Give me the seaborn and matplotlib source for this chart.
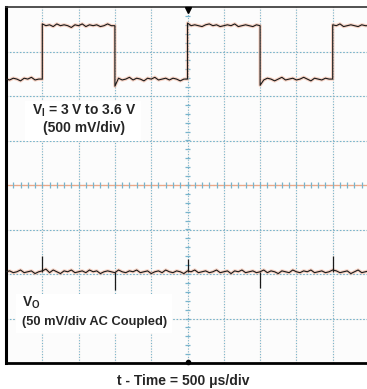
import numpy as np
import pandas as pd
import matplotlib
matplotlib.use("Agg")
import matplotlib.pyplot as plt
import seaborn as sns
from matplotlib.patches import Rectangle

# scope settings
time_per_div = 500          # us/div
vin_per_div = 0.5           # V/div
vin_offset = 1.81           # V at screen centre
vout_per_div = 50           # mV/div
vout_offset_div = -1.95     # output trace position (div)

# input square wave, one list per segment between edges (50 us steps)
edges_us = [0, 500, 1500, 2500, 3500, 4500, 5000]
vin_seg = [
    [3.00, 2.99, 3.01, 3.00, 2.98, 3.01, 3.00, 3.02, 2.99, 3.00, 3.00],
    [3.62, 3.60, 3.61, 3.59, 3.62, 3.60, 3.61, 3.60, 3.58, 3.61, 3.60,
     3.62, 3.59, 3.61, 3.60, 3.61, 3.59, 3.60, 3.62, 3.60, 3.60],
    [2.92, 3.01, 2.99, 3.00, 3.02, 2.99, 3.01, 3.00, 2.98, 3.01, 3.00,
     3.02, 2.99, 3.00, 3.01, 2.99, 3.01, 3.00, 2.98, 3.00, 3.00],
    [3.63, 3.60, 3.61, 3.60, 3.59, 3.61, 3.62, 3.60, 3.61, 3.59, 3.60,
     3.61, 3.60, 3.62, 3.59, 3.60, 3.61, 3.60, 3.59, 3.61, 3.60],
    [2.93, 2.99, 3.01, 3.00, 2.98, 3.00, 3.02, 2.99, 3.00, 3.01, 2.99,
     3.00, 3.02, 3.00, 2.98, 3.01, 3.00, 2.99, 3.01, 3.00, 3.00],
    [3.61, 3.60, 3.62, 3.59, 3.60, 3.61, 3.60, 3.59, 3.61, 3.60, 3.60],
]

# output ripple (mV, AC coupled), 50 us steps
vout_mv = [0, 1, -1, 0, 2, -1, 0, 1, -2, 0,
           1, 3, -1, 2, 0, -2, 1, 0, 2, -1,
           0, 1, -1, 2, 0, 1, -2, 0, 1, 0,
           -1, 2, 0, -1, 1, 0, 2, -1, 0, 1,
           -2, 0, 1, -1, 2, 0, -1, 1, 0, -2,
           1, 0, 2, -1, 0, 1, -1, 0, 2, -1,
           0, 1, -2, 1, 0, 2, -1, 0, 1, -1,
           0, 2, -1, 1, 0, -2, 1, 0, -1, 2,
           0, -1, 1, 0, 2, -1, 0, 1, -1, 0,
           2, 1, -1, 0, 1, -2, 0, 2, -1, 0,
           1]
spike_t = [500, 1500, 2500, 3500, 4500]
spike_mv = [18, -21, 14, -18, 18]

rows = []
for i, seg in enumerate(vin_seg):
    ts = np.linspace(edges_us[i], edges_us[i + 1], len(seg))
    rows += list(zip(ts, seg))
vin = pd.DataFrame(rows, columns=["t", "v"])
vin["div"] = (vin["v"] - vin_offset) / vin_per_div

vout = pd.DataFrame({"t": np.arange(len(vout_mv)) * 50, "mv": vout_mv})
vout["div"] = vout_offset_div + vout["mv"] / vout_per_div

sns.set_style("white")
plt.rcParams["font.family"] = ["Liberation Sans", "DejaVu Sans"]
plt.rcParams["mathtext.fontset"] = "custom"
plt.rcParams["mathtext.rm"] = "Liberation Sans"
plt.rcParams["mathtext.bf"] = "Liberation Sans:bold"

fig = plt.figure(figsize=(3.67, 3.89), dpi=100)
ax = fig.add_axes([6 / 367, 26 / 389, 363 / 367, 356 / 389])
ax.set_facecolor("#fcfcfc")
ax.set_xlim(0, 10 * time_per_div)
ax.set_ylim(-4, 4)

# graticule
grid_c = "#78b4cc"
for k in range(1, 10):
    ax.axvline(k * time_per_div, color="#f2c4b0", lw=1.0, alpha=0.15, zorder=1)
    ax.axvline(k * time_per_div, color=grid_c, lw=0.8, ls=(0, (1, 1.5)), zorder=1)
for k in range(-3, 4):
    ax.axhline(k, color="#f2c4b0", lw=1.0, alpha=0.15, zorder=1)
    ax.axhline(k, color=grid_c, lw=0.8, ls=(0, (1.5, 1.5)), zorder=1)
ax.axhline(0, color="#eca888", lw=0.9, zorder=1)
minor_t = np.arange(100, 5000, 100)
ax.vlines(minor_t, -0.07, 0.07, color=grid_c, lw=0.9, zorder=1)
minor_y = np.arange(-3.8, 4, 0.2)
ax.hlines(minor_y, 2460, 2540, color=grid_c, lw=0.9, zorder=1)

# traces with a soft halo
for d in (vin, vout):
    sns.lineplot(data=d, x="t", y="div", ax=ax, estimator=None, sort=False,
                 color="#f0a080", lw=2.4, alpha=0.45, zorder=2)
    sns.lineplot(data=d, x="t", y="div", ax=ax, estimator=None, sort=False,
                 color="#1a1a1a", lw=0.8, zorder=3)
base = [vout_offset_div] * len(spike_t)
tops = [vout_offset_div + s / vout_per_div for s in spike_mv]
ax.vlines(spike_t, base, tops, color="#1a1a1a", lw=0.9, zorder=3)

# markers
ax.plot([2500], [3.93], marker="v", color="black", ms=5, clip_on=False, zorder=5)
ax.plot([2500], [-3.97], marker="o", color="black", ms=3, clip_on=False, zorder=5)

# labels
fs = 10
ax.add_patch(Rectangle((0.053, 0.625), 0.32, 0.11, transform=ax.transAxes,
                       facecolor="white", edgecolor="none", zorder=4))
ax.text(0.214, 0.708, r"V$_\mathbf{I}$ = 3 V to 3.6 V", transform=ax.transAxes,
        ha="center", va="center", fontsize=fs, fontweight="bold", zorder=5)
ax.text(0.214, 0.66, "(500 mV/div)", transform=ax.transAxes,
        ha="center", va="center", fontsize=fs, fontweight="bold", zorder=5)
ax.add_patch(Rectangle((0.028, 0.085), 0.43, 0.11, transform=ax.transAxes,
                       facecolor="white", edgecolor="none", zorder=4))
ax.text(0.045, 0.17, r"V$_\mathbf{O}$", transform=ax.transAxes,
        ha="left", va="center", fontsize=fs, fontweight="bold", zorder=5)
ax.text(0.045, 0.115, "(50 mV/div AC Coupled)", transform=ax.transAxes,
        ha="left", va="center", fontsize=9.3, fontweight="bold", zorder=5)

ax.set_xticks([])
ax.set_yticks([])
ax.set_ylabel("")
ax.set_xlabel("t - Time = 500 \u03bcs/div", fontsize=fs, fontweight="bold")
ax.xaxis.set_label_coords((183 - 6) / 363, -(373 - 362) / 356)
for side, lw, c in [("left", 2.2, "black"), ("bottom", 2.0, "black"),
                    ("top", 1.2, "#333333")]:
    ax.spines[side].set_linewidth(lw)
    ax.spines[side].set_color(c)
ax.spines["right"].set_visible(False)

fig.savefig("out.png", dpi=100)
